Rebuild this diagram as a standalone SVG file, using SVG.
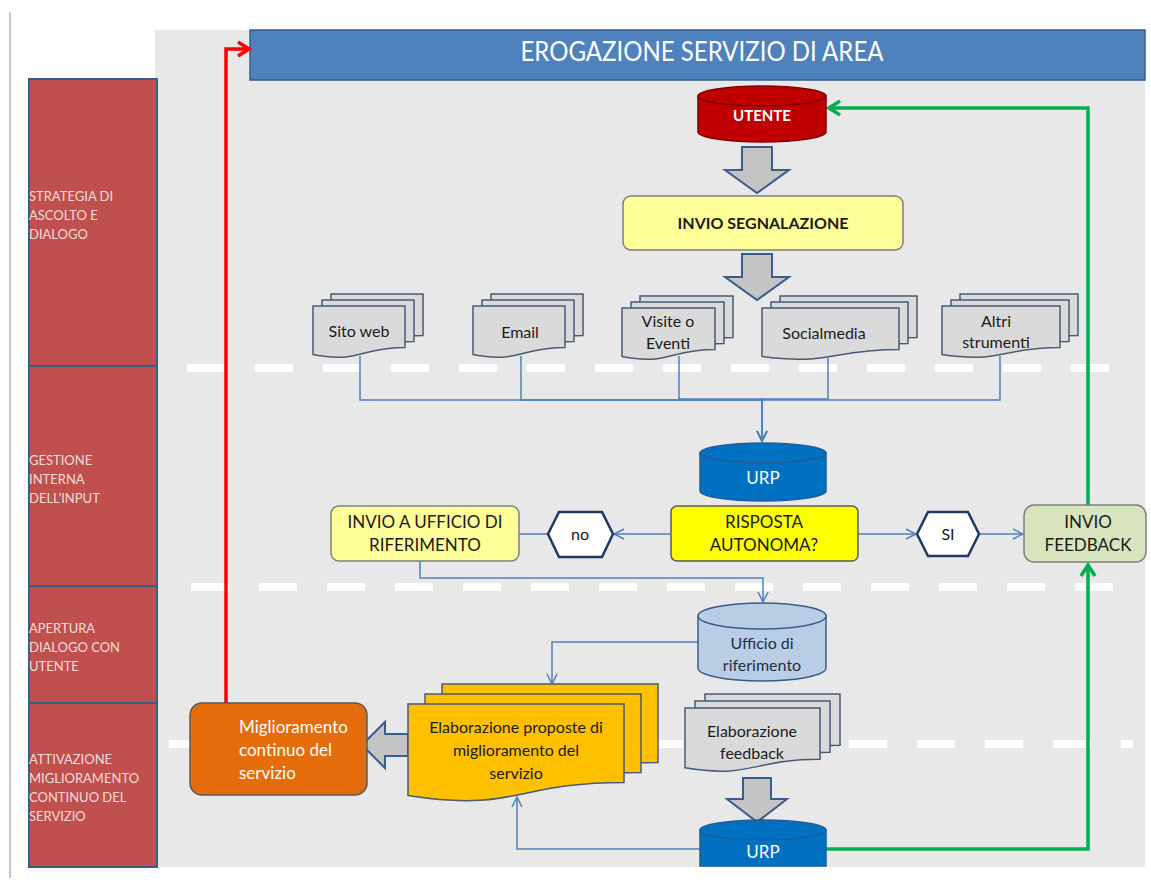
<svg xmlns="http://www.w3.org/2000/svg" width="1151" height="882" viewBox="0 0 1151 882">
<style>
.lane{fill:#c0504d;stroke:#385d8a;stroke-width:2}
.lt{font-family:Lato,'Liberation Sans',sans-serif;font-size:13px;fill:#f2dcdb}
.t{font-family:Lato,'Liberation Sans',sans-serif;font-size:16px;fill:#1a1a1a;text-anchor:middle}
.w{fill:#ffffff}
.b{font-weight:bold}
.conn{fill:none;stroke:#4f81bd;stroke-width:1.5}
.dash{stroke:#ffffff;stroke-width:8;stroke-dasharray:38 30}
.blk{fill:#c4c4c4;stroke:#385d8a;stroke-width:2;stroke-linejoin:miter}
.doc{fill:#dadada;stroke:#4a5a75;stroke-width:1.5}
.docy{fill:#ffc000;stroke:#4a5a75;stroke-width:1.5}
.hex{fill:#ffffff;stroke:#1f3864;stroke-width:2.5}
</style>
<defs>
<marker id="ab" markerUnits="userSpaceOnUse" markerWidth="12" markerHeight="12" viewBox="0 0 12 12" refX="11" refY="6" orient="auto"><path d="M1,1 L11,6 L1,11" fill="none" stroke="#4f81bd" stroke-width="1.5"/></marker>
<marker id="ag" markerUnits="userSpaceOnUse" markerWidth="18" markerHeight="18" viewBox="0 0 18 18" refX="15" refY="9" orient="auto"><path d="M4,2 L15,9 L4,16" fill="none" stroke="#00b050" stroke-width="3.5"/></marker>
<marker id="ar" markerUnits="userSpaceOnUse" markerWidth="18" markerHeight="18" viewBox="0 0 18 18" refX="15" refY="9" orient="auto"><path d="M4,2 L15,9 L4,16" fill="none" stroke="#ff0000" stroke-width="3.5"/></marker>
</defs>
<rect x="0" y="0" width="1151" height="882" fill="#ffffff"/>
<line x1="10" y1="12" x2="10" y2="878" stroke="#c8c8c8" stroke-width="2"/>
<rect x="155" y="30" width="990" height="837" fill="#e8e8e8"/>
<g id="lanes">
<rect class="lane" x="29" y="79" width="128" height="287"/>
<rect class="lane" x="29" y="366" width="128" height="220"/>
<rect class="lane" x="29" y="586" width="128" height="117"/>
<rect class="lane" x="29" y="703" width="128" height="164"/>
<text class="lt" x="29" y="201">STRATEGIA DI</text>
<text class="lt" x="29" y="220">ASCOLTO E</text>
<text class="lt" x="29" y="239">DIALOGO</text>
<text class="lt" x="29" y="465">GESTIONE</text>
<text class="lt" x="29" y="484">INTERNA</text>
<text class="lt" x="29" y="503">DELL’INPUT</text>
<text class="lt" x="29" y="633">APERTURA</text>
<text class="lt" x="29" y="652">DIALOGO CON</text>
<text class="lt" x="29" y="671">UTENTE</text>
<text class="lt" x="29" y="764">ATTIVAZIONE</text>
<text class="lt" x="29" y="783">MIGLIORAMENTO</text>
<text class="lt" x="29" y="802">CONTINUO DEL</text>
<text class="lt" x="29" y="821">SERVIZIO</text>
</g>
<g id="separators">
<line class="dash" x1="187" y1="368" x2="1115" y2="368"/>
<line class="dash" x1="191" y1="587" x2="1115" y2="587"/>
<line class="dash" x1="169" y1="744" x2="1133" y2="744"/>
</g>
<g id="header">
<rect x="250" y="30" width="895" height="50" fill="#4f81bd" stroke="#385d8a" stroke-width="1.5"/>
<text class="t w" x="702" y="61" textLength="363" lengthAdjust="spacingAndGlyphs" style="font-size:26px">EROGAZIONE SERVIZIO DI AREA</text>
</g>
<g id="connectors">
<path class="conn" d="M360,356 V400 H762 V441" marker-end="url(#ab)"/>
<path class="conn" d="M521,356 V400 H762 V441" marker-end="url(#ab)"/>
<path class="conn" d="M679,356 V399 H762 V441" marker-end="url(#ab)"/>
<path class="conn" d="M828,358 V399 H762 V441" marker-end="url(#ab)"/>
<path class="conn" d="M1000,356 V400 H762 V441" marker-end="url(#ab)"/>
<path class="conn" d="M670,534 H614" marker-end="url(#ab)"/>
<path class="conn" d="M548,534 H519"/>
<path class="conn" d="M858,534 H916" marker-end="url(#ab)"/>
<path class="conn" d="M980,534 H1023" marker-end="url(#ab)"/>
<path class="conn" d="M420,561 V578 H763 V602" marker-end="url(#ab)"/>
<path class="conn" d="M698,642 H552 V684" marker-end="url(#ab)"/>
<path class="conn" d="M700,849 H517 V797" marker-end="url(#ab)"/>
<path d="M1088,505 V108 H829" fill="none" stroke="#00b050" stroke-width="3.5" marker-end="url(#ag)"/>
<path d="M826,849 H1088 V565" fill="none" stroke="#00b050" stroke-width="3.5" marker-end="url(#ag)"/>
<path d="M226,703 V49 H249" fill="none" stroke="#ff0000" stroke-width="3.5" marker-end="url(#ar)"/>
<path class="blk" d="M742,147 H772 V170 H789 L757,193 L725,170 H742 Z"/>
<path class="blk" d="M742,254 H772 V277 H789 L757,300 L725,277 H742 Z"/>
<path class="blk" d="M743,778 H771 V799 H787 L757,822 L727,799 H743 Z"/>
<path class="blk" d="M408,734 V756 H385 V768 L362,745 L385,722 V734 Z"/>
</g>
<g id="utente">
<path d="M698,96 V132 A64,10 0 0 0 826,132 V96 Z" fill="#c00000" stroke="#7f0000" stroke-width="1.5"/>
<ellipse cx="762" cy="96" rx="64" ry="10" fill="#c00000" stroke="#7f0000" stroke-width="1.5"/>
<text class="t w b" x="762" y="121" style="font-size:15px">UTENTE</text>
</g>
<g id="invio-segnalazione">
<rect x="623" y="196" width="280" height="54" rx="8" fill="#ffff99" stroke="#7f7f7f" stroke-width="1.5"/>
<text class="t b" x="763" y="229">INVIO SEGNALAZIONE</text>
</g>
<g id="sito-web">
<path class="doc" d="M331,294 H423 V335.6 C377,335.6 377,351.6 331,342.6 Z"/>
<path class="doc" d="M322,300 H414 V341.6 C368,341.6 368,357.6 322,348.6 Z"/>
<path class="doc" d="M313,306 H405 V347.6 C359,347.6 359,363.6 313,354.6 Z"/>
<text class="t" x="359" y="337">Sito web</text>
</g>
<g id="email">
<path class="doc" d="M491,294 H583 V335.6 C537,335.6 537,351.6 491,342.6 Z"/>
<path class="doc" d="M482,300 H574 V341.6 C528,341.6 528,357.6 482,348.6 Z"/>
<path class="doc" d="M473,306 H565 V347.6 C519,347.6 519,363.6 473,354.6 Z"/>
<text class="t" x="520" y="338">Email</text>
</g>
<g id="visite">
<path class="doc" d="M640,296 H733 V337.6 C686.5,337.6 686.5,353.6 640,344.6 Z"/>
<path class="doc" d="M631,302 H724 V343.6 C677.5,343.6 677.5,359.6 631,350.6 Z"/>
<path class="doc" d="M622,308 H715 V349.6 C668.5,349.6 668.5,365.6 622,356.6 Z"/>
<text class="t" x="668" y="327">Visite o</text>
<text class="t" x="668" y="349">Eventi</text>
</g>
<g id="socialmedia">
<path class="doc" d="M780,296 H917 V337.6 C848.5,337.6 848.5,353.6 780,344.6 Z"/>
<path class="doc" d="M771,302 H908 V343.6 C839.5,343.6 839.5,359.6 771,350.6 Z"/>
<path class="doc" d="M762,308 H899 V349.6 C830.5,349.6 830.5,365.6 762,356.6 Z"/>
<text class="t" x="824" y="339">Socialmedia</text>
</g>
<g id="altri-strumenti">
<path class="doc" d="M960,294 H1078 V335.6 C1019,335.6 1019,351.6 960,342.6 Z"/>
<path class="doc" d="M951,300 H1069 V341.6 C1010,341.6 1010,357.6 951,348.6 Z"/>
<path class="doc" d="M942,306 H1060 V347.6 C1001,347.6 1001,363.6 942,354.6 Z"/>
<text class="t" x="996" y="327">Altri</text>
<text class="t" x="996" y="348">strumenti</text>
</g>
<g id="urp-1">
<path d="M700,453 V491 A63,10 0 0 0 826,491 V453 Z" fill="#0070c0" stroke="#1f5c99" stroke-width="1.5"/>
<ellipse cx="763" cy="453" rx="63" ry="10" fill="#0070c0" stroke="#1f5c99" stroke-width="1.5"/>
<text class="t w" x="763" y="484" style="font-size:17px">URP</text>
</g>
<g id="risposta-autonoma">
<rect x="671" y="506" width="187" height="55" rx="6" fill="#ffff00" stroke="#595959" stroke-width="1.5"/>
<text class="t" x="764" y="528" style="font-size:17px">RISPOSTA</text>
<text class="t" x="764" y="551" style="font-size:17px">AUTONOMA?</text>
</g>
<g id="no">
<polygon class="hex" points="548,534 559,512 602,512 613,534 602,557 559,557"/>
<text class="t" x="580" y="540">no</text>
</g>
<g id="si">
<polygon class="hex" points="917,534 928,512 968,512 979,534 968,556 928,556"/>
<text class="t" x="948" y="540">SI</text>
</g>
<g id="invio-ufficio">
<rect x="331" y="506" width="188" height="55" rx="8" fill="#ffff99" stroke="#7f7f7f" stroke-width="1.5"/>
<text class="t" x="425" y="528" style="font-size:17px">INVIO A UFFICIO DI</text>
<text class="t" x="425" y="551" style="font-size:17px">RIFERIMENTO</text>
</g>
<g id="invio-feedback">
<rect x="1024" y="505" width="122" height="57" rx="10" fill="#d7e4bd" stroke="#7f7f7f" stroke-width="1.5"/>
<text class="t" x="1088" y="528" style="font-size:17px">INVIO</text>
<text class="t" x="1088" y="551" style="font-size:17px">FEEDBACK</text>
</g>
<g id="ufficio-riferimento">
<path d="M698,616 V668 A64,13 0 0 0 826,668 V616 Z" fill="#b9cde5" stroke="#385d8a" stroke-width="1.5"/>
<ellipse cx="762" cy="616" rx="64" ry="13" fill="#b9cde5" stroke="#385d8a" stroke-width="1.5"/>
<text class="t" x="762" y="649" style="fill:#1f2f4a">Ufficio di</text>
<text class="t" x="762" y="671" style="fill:#1f2f4a">riferimento</text>
</g>
<g id="elaborazione-proposte">
<path class="docy" d="M442,684 H658 V762.4 C550,762.4 550,792.5 442,775.5 Z"/>
<path class="docy" d="M425,694 H641 V772.4 C533,772.4 533,802.5 425,785.5 Z"/>
<path class="docy" d="M408,704 H624 V782.4 C516,782.4 516,812.5 408,795.5 Z"/>
<text class="t" x="516" y="733">Elaborazione proposte di</text>
<text class="t" x="516" y="756">miglioramento del</text>
<text class="t" x="516" y="779">servizio</text>
</g>
<g id="miglioramento">
<rect x="190" y="703" width="177" height="92" rx="12" fill="#e46c0a" stroke="#595959" stroke-width="1.5"/>
<text class="t w" x="239" y="733" style="text-anchor:start;font-size:17px">Miglioramento</text>
<text class="t w" x="239" y="756" style="text-anchor:start;font-size:17px">continuo del</text>
<text class="t w" x="239" y="779" style="text-anchor:start;font-size:17px">servizio</text>
</g>
<g id="elaborazione-feedback">
<path class="doc" d="M705,694 H840 V745.2 C772.5,745.2 772.5,764.8 705,753.8 Z"/>
<path class="doc" d="M695,701 H830 V752.2 C762.5,752.2 762.5,771.8 695,760.8 Z"/>
<path class="doc" d="M685,708 H820 V759.2 C752.5,759.2 752.5,778.8 685,767.8 Z"/>
<text class="t" x="752" y="737">Elaborazione</text>
<text class="t" x="752" y="759">feedback</text>
</g>
<g id="urp-2">
<path d="M700,830 V866 H826 V830 Z" fill="#0070c0" stroke="#1f5c99" stroke-width="1.5"/>
<ellipse cx="763" cy="830" rx="63" ry="10" fill="#0070c0" stroke="#1f5c99" stroke-width="1.5"/>
<text class="t w" x="763" y="858" style="font-size:17px">URP</text>
</g>
</svg>
